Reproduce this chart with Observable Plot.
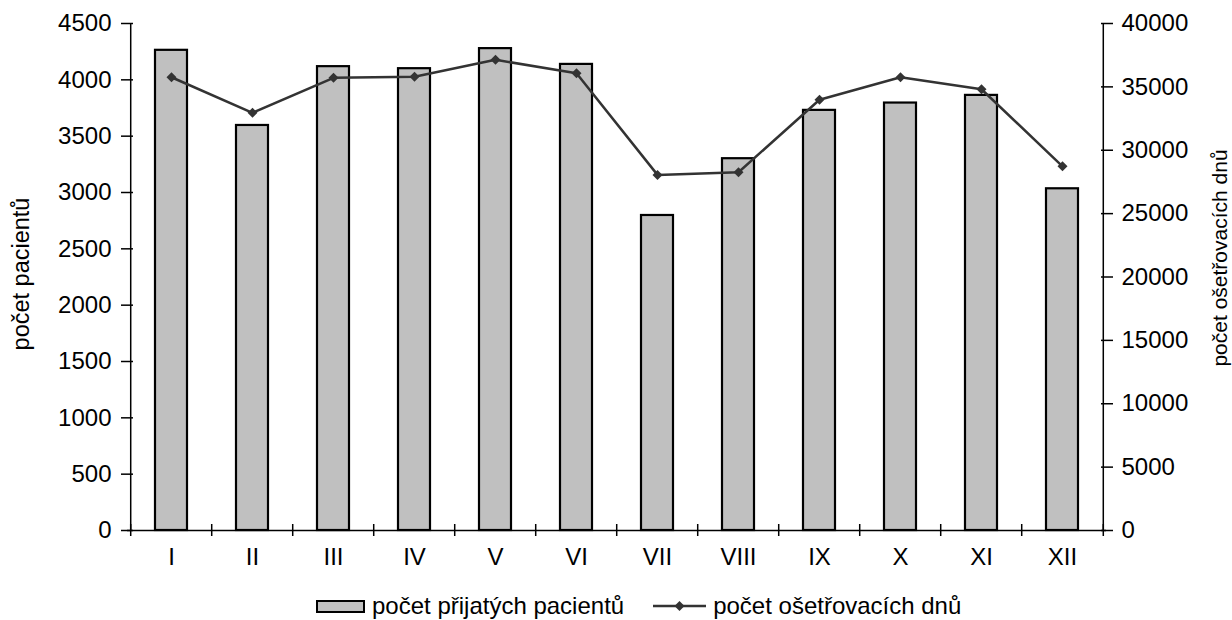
<!DOCTYPE html>
<html>
<head>
<meta charset="utf-8">
<script src="https://cdn.jsdelivr.net/npm/d3@7"></script>
<script src="https://cdn.jsdelivr.net/npm/@observablehq/plot@0.6"></script>
<style>
  html, body { margin: 0; padding: 0; background: #fff; }
  body { width: 1232px; height: 620px; position: relative; overflow: hidden; font-family: "Liberation Sans", Arial, sans-serif; }
  #legend { position: absolute; left: 316px; top: 593px; height: 26px; line-height: 26px; display: flex; align-items: center; font-size: 24px; color: #000; white-space: nowrap; }
  .sw-bar { box-sizing: border-box; width: 49px; height: 13px; background: #c0c0c0; border: 2px solid #000; margin-right: 7px; }
  .sw-line { margin-left: 29px; margin-right: 7px; }
</style>
</head>
<body>
<div id="chart"></div>
<div id="legend">
  <div class="sw-bar"></div><span>počet přijatých pacientů</span>
  <svg class="sw-line" width="53" height="16" viewBox="0 0 53 16"><line x1="0" y1="8" x2="53" y2="8" stroke="#333" stroke-width="2.5"/><path d="M26.5,3L31.5,8L26.5,13L21.5,8Z" fill="#333"/></svg><span>počet ošetřovacích dnů</span>
</div>
<script>
const months = ["I","II","III","IV","V","VI","VII","VIII","IX","X","XI","XII"];
const patients = [4262, 3595, 4117, 4099, 4277, 4137, 2796, 3300, 3729, 3794, 3862, 3033];
const days = [35760, 32950, 35715, 35795, 37135, 36080, 28055, 28265, 33980, 35760, 34815, 28735];
const leftTicks = [0, 500, 1000, 1500, 2000, 2500, 3000, 3500, 4000, 4500];
const rightTicks = [0, 5000, 10000, 15000, 20000, 25000, 30000, 35000, 40000];
const leftLabel = "počet pacientů";
const rightLabel = "počet ošetřovacích dnů";

const leftMax = 4500, rightMax = 40000;
const k = leftMax / rightMax;
const data = months.map((m, i) => ({month: m, patients: patients[i], days: days[i]}));

const W = 1232, H = 575, mL = 127, mR = 126, mT = 23, mB = 45;
const step = (W - mL - mR) / months.length;
const font = "Liberation Sans, Arial, sans-serif";

const chart = Plot.plot({
  width: W, height: H,
  marginLeft: mL, marginRight: mR, marginTop: mT, marginBottom: mB,
  style: {fontFamily: font, fontSize: "24px", background: "#fff", color: "#000", overflow: "visible"},
  x: {type: "band", domain: months, paddingInner: 0.6, paddingOuter: 0.3, axis: null},
  y: {domain: [0, leftMax], axis: null},
  marks: [
    Plot.barY(data, {x: "month", y: "patients", fill: "#c0c0c0", stroke: "#000", strokeWidth: 2.2}),
    Plot.ruleY([0], {stroke: "#000", strokeWidth: 1.5}),
    Plot.ruleX([months[0]], {x: d => d, dx: -step / 2, stroke: "#000", strokeWidth: 1.5}),
    Plot.ruleX([months[months.length - 1]], {x: d => d, dx: step / 2, stroke: "#000", strokeWidth: 1.5}),
    Plot.ruleX(months, {x: d => d, y1: 0, y2: 0, dx: -step / 2, insetTop: 6, insetBottom: 6, stroke: "#000", strokeWidth: 1.5}),
    Plot.ruleX([months[months.length - 1]], {x: d => d, y1: 0, y2: 0, dx: step / 2, insetTop: 6, insetBottom: 6, stroke: "#000", strokeWidth: 1.5}),
    Plot.line(data, {x: "month", y: d => d.days * k, stroke: "#333", strokeWidth: 2.5}),
    Plot.dot(data, {x: "month", y: d => d.days * k, symbol: "diamond2", r: 4.5, fill: "#333", stroke: "none"}),
    Plot.axisX({tickSize: 0, tickPadding: 17, fontSize: 24, label: null}),
    Plot.axisY(leftTicks, {anchor: "left", tickSize: 12, dx: 6, tickPadding: 10, strokeWidth: 1.5, fontSize: 24, label: null, tickFormat: d => String(d)}),
    Plot.axisY(rightTicks.map(v => v * k), {anchor: "right", tickSize: 12, dx: -6, tickPadding: 9, strokeWidth: 1.5, fontSize: 24, label: null, tickFormat: d => String(Math.round(d / k))}),
    Plot.text([leftLabel], {frameAnchor: "left", textAnchor: "middle", text: d => d, rotate: -90, dx: -106, dy: -3, fontSize: 23.5, fill: "#000"}),
    Plot.text([rightLabel], {frameAnchor: "right", textAnchor: "middle", text: d => d, rotate: -90, dx: 114, dy: -19, fontSize: 21, fill: "#000"})
  ]
});
document.getElementById("chart").appendChild(chart);
</script>
</body>
</html>
